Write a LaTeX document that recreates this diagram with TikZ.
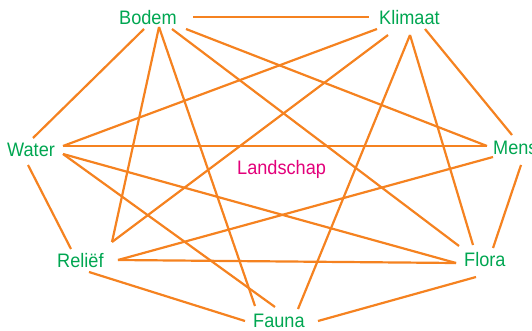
\documentclass[tikz,border=0pt]{standalone}
\usepackage{fontspec}
\setmainfont[FakeStretch=0.93]{Liberation Sans}
\definecolor{lgreen}{RGB}{0,166,81}
\definecolor{lorange}{RGB}{245,130,32}
\definecolor{lmag}{RGB}{226,0,122}
\tikzset{
  lbl/.style={anchor=base west, inner sep=0pt, text=lgreen, font=\fontsize{19.5}{23}\selectfont},
  ctr/.style={anchor=base west, inner sep=0pt, text=lmag, font=\fontsize{19.5}{23}\selectfont},
  link/.style={draw=lorange, line width=2.2pt}
}
\begin{document}
\begin{tikzpicture}[x=1pt,y=-1pt]
\useasboundingbox (0,0) rectangle (532,331);
\clip (0,0) rectangle (532,331);
% labels
\node[lbl] (bodem) at (119,25) {Bodem};
\node[lbl] (klimaat) at (379,25) {Klimaat};
\node[lbl] (water) at (7,157) {Water};
\node[lbl] (mens) at (493,155) {Mens};
\node[lbl] (relief) at (57,267) {Reliëf};
\node[lbl] (flora) at (464,266) {Flora};
\node[lbl] (fauna) at (253,327) {Fauna};
\node[ctr] (land) at (237,175) {Landschap};
% connector end points
\coordinate (bE) at (193,17);
\coordinate (bSW) at (144,29);
\coordinate (bS) at (159,27);
\coordinate (bSE) at (172,29);
\coordinate (bE2) at (186,29);
\coordinate (kW) at (369,17);
\coordinate (kSW) at (377,29);
\coordinate (kSW2) at (388,35);
\coordinate (kS) at (410,35);
\coordinate (kSE) at (425,29);
\coordinate (wN) at (33,138);
\coordinate (wE) at (63,146);
\coordinate (wE2) at (63,154);
\coordinate (wS) at (28,165);
\coordinate (mW) at (487,146);
\coordinate (mN) at (512,135);
\coordinate (mSW) at (493,157);
\coordinate (mS) at (521,165);
\coordinate (rN) at (112,242);
\coordinate (rNW) at (71,249);
\coordinate (rE) at (118,260);
\coordinate (rS) at (89,272);
\coordinate (flW) at (456,263);
\coordinate (flNW) at (459,246);
\coordinate (flN) at (473,245);
\coordinate (flNE) at (493,248);
\coordinate (flS) at (476,277);
\coordinate (faNW) at (255,306);
\coordinate (faN) at (275,307);
\coordinate (faNE) at (298,309);
\coordinate (faW) at (245,321);
\coordinate (faE) at (318,321);
% connectors
\draw[link] (bE) -- (kW);
\draw[link] (bSW) -- (wN);
\draw[link] (bS) -- (rN);
\draw[link] (bS) -- (faNW);
\draw[link] (bSE) -- (flNW);
\draw[link] (bE2) -- (mW);
\draw[link] (wE) -- (mW);
\draw[link] (kSW) -- (wE);
\draw[link] (kSW2) -- (rN);
\draw[link] (kS) -- (faNE);
\draw[link] (kS) -- (flN);
\draw[link] (kSE) -- (mN);
\draw[link] (mSW) -- (rE);
\draw[link] (mS) -- (flNE);
\draw[link] (wS) -- (rNW);
\draw[link] (wE2) -- (flW);
\draw[link] (rE) -- (flW);
\draw[link] (wE2) -- (faN);
\draw[link] (rS) -- (faW);
\draw[link] (faE) -- (flS);
\end{tikzpicture}
\end{document}
